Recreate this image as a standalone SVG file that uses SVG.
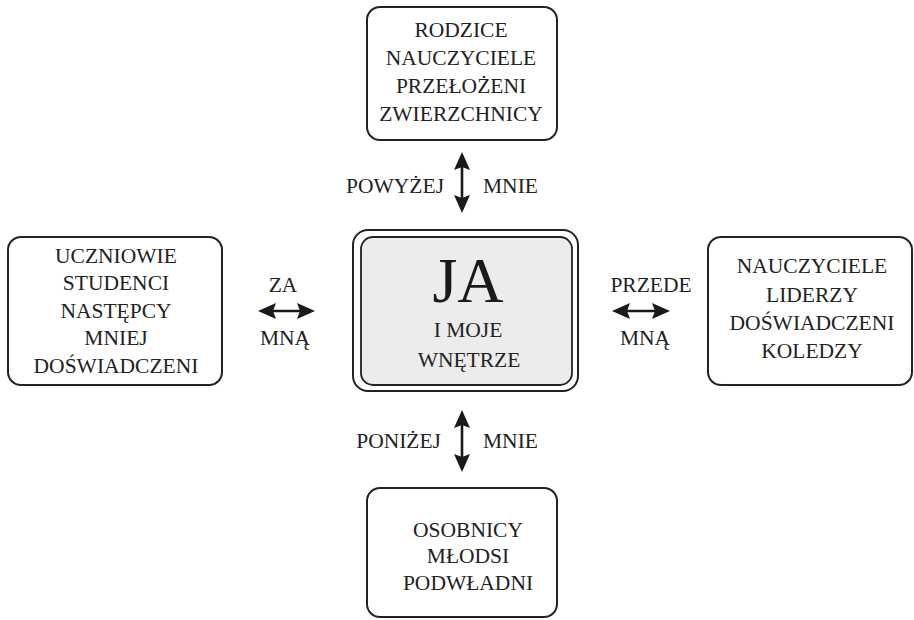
<svg xmlns="http://www.w3.org/2000/svg" width="914" height="620" viewBox="0 0 914 620">
  <style>
    .box { fill: #ffffff; stroke: #222222; stroke-width: 2; }
    .inner { fill: #ececec; stroke: #222222; stroke-width: 1.8; }
    .t { font-family: "Liberation Serif", "DejaVu Serif", serif; font-size: 21.5px; fill: #222222; text-anchor: middle; }
    .big { font-size: 64px; fill: #1a1a1a; }
    .end { text-anchor: end; }
    .start { text-anchor: start; }
    .conn { stroke: #1a1a1a; stroke-width: 2.6; fill: none; marker-start: url(#ah); marker-end: url(#ah); }
  </style>
  <defs>
    <marker id="ah" markerUnits="userSpaceOnUse" markerWidth="20" markerHeight="18" refX="14" refY="8" orient="auto-start-reverse" viewBox="0 0 20 18">
      <path d="M0,0 L18,8 L0,16 L3,8 Z" fill="#1a1a1a"/>
    </marker>
  </defs>

  <g id="connectors">
    <line class="conn" x1="462" y1="156" x2="462" y2="209"/>
    <line class="conn" x1="462" y1="414" x2="462" y2="468"/>
    <line class="conn" x1="262" y1="311" x2="311" y2="311"/>
    <line class="conn" x1="616" y1="311" x2="666" y2="311"/>
    <text class="t end" x="444" y="193">POWYŻEJ</text>
    <text class="t start" x="483" y="193">MNIE</text>
    <text class="t end" x="441" y="448">PONIŻEJ</text>
    <text class="t start" x="483" y="448">MNIE</text>
    <text class="t" x="283" y="292">ZA</text>
    <text class="t" x="285" y="345">MNĄ</text>
    <text class="t" x="651" y="292">PRZEDE</text>
    <text class="t" x="645" y="345">MNĄ</text>
  </g>

  <g id="node-top">
    <rect class="box" x="367" y="7" width="190" height="133" rx="13"/>
    <text class="t" x="461" y="37">RODZICE</text>
    <text class="t" x="461" y="65">NAUCZYCIELE</text>
    <text class="t" x="461" y="93">PRZEŁOŻENI</text>
    <text class="t" x="461" y="121">ZWIERZCHNICY</text>
  </g>

  <g id="node-center">
    <rect class="box" x="353" y="230" width="225" height="161" rx="15"/>
    <rect class="inner" x="361" y="237" width="211" height="148" rx="12"/>
    <text class="t big" x="468" y="302">JA</text>
    <text class="t" x="468" y="337">I MOJE</text>
    <text class="t" x="469" y="367">WNĘTRZE</text>
  </g>

  <g id="node-left">
    <rect class="box" x="8" y="237" width="214" height="148" rx="13"/>
    <text class="t" x="116" y="263">UCZNIOWIE</text>
    <text class="t" x="116" y="290">STUDENCI</text>
    <text class="t" x="116" y="318">NASTĘPCY</text>
    <text class="t" x="116" y="345">MNIEJ</text>
    <text class="t" x="116" y="373">DOŚWIADCZENI</text>
  </g>

  <g id="node-right">
    <rect class="box" x="708" y="237" width="204" height="148" rx="13"/>
    <text class="t" x="812" y="273">NAUCZYCIELE</text>
    <text class="t" x="812" y="302">LIDERZY</text>
    <text class="t" x="812" y="330">DOŚWIADCZENI</text>
    <text class="t" x="812" y="358">KOLEDZY</text>
  </g>

  <g id="node-bottom">
    <rect class="box" x="367" y="488" width="190" height="129" rx="13"/>
    <text class="t" x="468" y="537">OSOBNICY</text>
    <text class="t" x="468" y="563">MŁODSI</text>
    <text class="t" x="468" y="590">PODWŁADNI</text>
  </g>
</svg>
